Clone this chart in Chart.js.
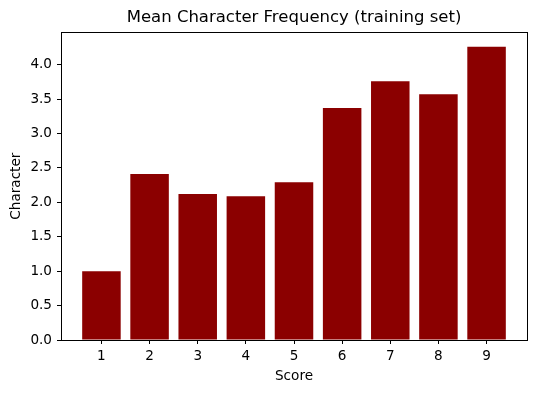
<!DOCTYPE html>
<html>
<head>
<meta charset="utf-8">
<script src="https://cdn.jsdelivr.net/npm/chart.js@4/dist/chart.umd.min.js"></script>
<style>
    html, body { margin: 0; padding: 0; background: #fff; }
</style>
</head>
<body>
<canvas id="myChart" width="536" height="393"></canvas>
<script>
const scores = [1, 2, 3, 4, 5, 6, 7, 8, 9]
const meanCharacter = [1.0, 2.41, 2.12, 2.09, 2.29, 3.37, 3.76, 3.57, 4.26]
const yTicks = [0, 0.5, 1.0, 1.5, 2.0, 2.5, 3.0, 3.5, 4.0]
const xTicks = [1, 2, 3, 4, 5, 6, 7, 8, 9]

const fontFamily = "'DejaVu Sans', sans-serif"
const canvasChart = document.getElementById("myChart").getContext("2d")

// caja negra alrededor del area del grafico
const frame = {
    id: "frame",
    afterDraw(chart) {
        const { ctx, chartArea } = chart
        ctx.save()
        ctx.strokeStyle = "#000"
        ctx.lineWidth = 1
        ctx.strokeRect(
            Math.round(chartArea.left) + 0.5,
            Math.round(chartArea.top) + 0.5,
            Math.round(chartArea.right - chartArea.left),
            Math.round(chartArea.bottom - chartArea.top)
        )
        ctx.restore()
    },
}

const myChart = new Chart(canvasChart, {
    type: "bar",
    data: {
        datasets: [
            {
                label: "Character",
                data: scores.map((s, i) => ({ x: s, y: meanCharacter[i] })),
                backgroundColor: "#8b0000",
                borderWidth: 0,
                borderSkipped: false,
                categoryPercentage: 1.0,
                barPercentage: 0.8,
            },
        ],
    },
    options: {
        responsive: false,
        animation: false,
        devicePixelRatio: 1,
        layout: { padding: { right: 9, top: 0, left: 0, bottom: 0 } },
        plugins: {
            legend: { display: false },
            tooltip: { enabled: false },
            title: {
                display: true,
                text: "Mean Character Frequency (training set)",
                fullSize: false,
                color: "#000",
                font: { family: fontFamily, size: 16.5, weight: "normal" },
                padding: { top: 8, bottom: 4.5 },
            },
        },
        scales: {
            x: {
                type: "linear",
                min: 0.16,
                max: 9.84,
                offset: false,
                afterBuildTicks: (scale) => {
                    scale.ticks = xTicks.map((v) => ({ value: v }))
                },
                afterFit: (scale) => {
                    scale.height = 53
                },
                grid: {
                    offset: false,
                    drawOnChartArea: false,
                    drawTicks: true,
                    tickLength: 4,
                    color: "#000",
                },
                border: { display: true, color: "#000", width: 1 },
                ticks: {
                    color: "#000",
                    padding: 4,
                    font: { family: fontFamily, size: 13.6 },
                },
                title: {
                    display: true,
                    text: "Score",
                    color: "#000",
                    font: { family: fontFamily, size: 13.6 },
                    padding: { top: 0, bottom: 8.8 },
                },
            },
            y: {
                min: 0,
                max: 4.47,
                afterBuildTicks: (scale) => {
                    scale.ticks = yTicks.map((v) => ({ value: v }))
                },
                afterFit: (scale) => {
                    scale.width = 61
                },
                grid: {
                    drawOnChartArea: false,
                    drawTicks: true,
                    tickLength: 4,
                    color: "#000",
                },
                border: { display: true, color: "#000", width: 1 },
                ticks: {
                    color: "#000",
                    padding: 5,
                    font: { family: fontFamily, size: 13.6 },
                    callback: (v) => Number(v).toFixed(1),
                },
                title: {
                    display: true,
                    text: "Character",
                    color: "#000",
                    font: { family: fontFamily, size: 13.6 },
                    padding: { top: 8.3, bottom: 0 },
                },
            },
        },
    },
    plugins: [frame],
})
</script>
</body>
</html>
